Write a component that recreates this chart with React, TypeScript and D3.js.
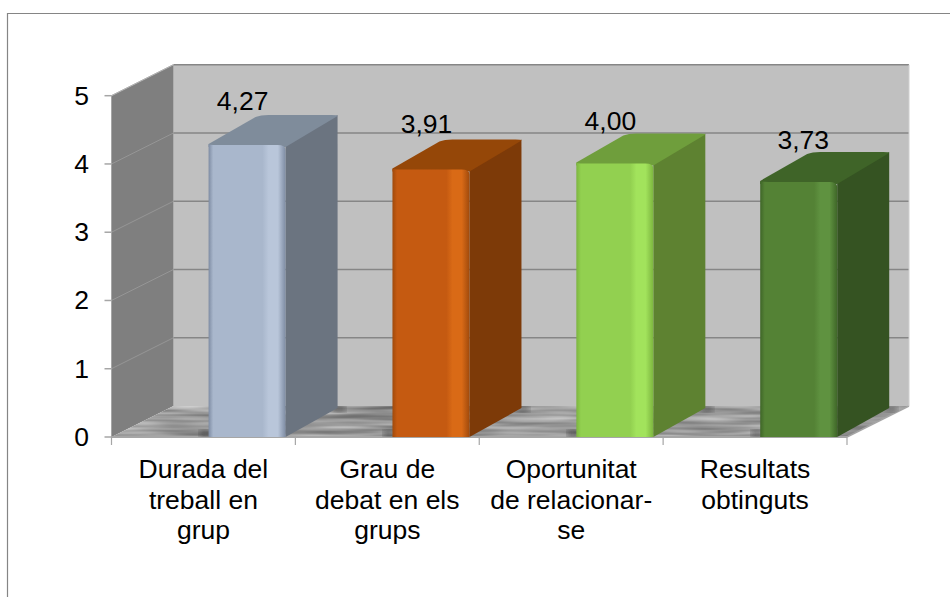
import React, { useEffect, useRef } from "react";
import * as d3 from "d3";

const categories = ["Durada del treball en grup", "Grau de debat en els grups", "Oportunitat de relacionar-se", "Resultats obtinguts"];
const labelLines = [
  ["Durada del", "treball en", "grup"],
  ["Grau de", "debat en els", "grups"],
  ["Oportunitat", "de relacionar-", "se"],
  ["Resultats", "obtinguts"],
];
const values = [4.27, 3.91, 4.0, 3.73];
const valueLabels = ["4,27", "3,91", "4,00", "3,73"];
const yTicks = [0, 1, 2, 3, 4, 5];

// front, highlight, top and side colours of each bar
const frontColors = ["#a9b7cc", "#c55a11", "#92d050", "#548235"];
const lightColors = ["#b9c6da", "#d96a16", "#a2e35c", "#5f9240"];
const edgeColors = ["#7e8ca3", "#a04a0c", "#7cb53f", "#3f6628"];
const topColors = ["#7f8c9b", "#954708", "#6f9e3c", "#3f6428"];
const sideColors = ["#6b7480", "#7d3a08", "#5e8231", "#355322"];

const width = 950, height = 597;
const x0 = 111.5, x1 = 847, y0 = 437, y5 = 95.7;
const depthX = 62, depthY = -31; // wall offset
const barDepthX = 52, barDepthY = -29;
const barOffset = 0.528, barWidth = 77;
const barLift = 1.5; // bars sit slightly above the scale in the 3d projection
const fontSize = 26.5;

// value labels don't sit at a fixed place over the bars
const labelDx = [34, 34, 34, 43];
const labelDy = [35.5, 37, 33.5, 33.7];

const App = () => {
  const svgRef = useRef<SVGSVGElement>(null);

  useEffect(() => {
    const svg = d3.select(svgRef.current);
    svg.selectAll("*").remove(); // Clear previous chart

    const xScale = d3.scaleBand().domain(categories).range([x0, x1]);
    const yScale = d3.scaleLinear().domain([0, 5]).range([y0, y5]);
    const font = "'Liberation Sans', Arial, sans-serif";

    const defs = svg.append("defs");

    // streaky floor texture
    const filter = defs.append("filter").attr("id", "floorTex").attr("x", 0).attr("y", 0).attr("width", 1).attr("height", 1)
      .attr("color-interpolation-filters", "sRGB");
    filter.append("feTurbulence").attr("type", "fractalNoise").attr("baseFrequency", "0.012 0.2").attr("numOctaves", 2).attr("seed", 4).attr("result", "n");
    filter.append("feColorMatrix").attr("in", "n").attr("type", "matrix")
      .attr("values", "0.55 0 0 0 0.33  0.55 0 0 0 0.33  0.55 0 0 0 0.33  0 0 0 0 1").attr("result", "g");
    filter.append("feGaussianBlur").attr("in", "g").attr("stdDeviation", "1.5 0.7").attr("result", "b");
    filter.append("feComposite").attr("in", "b").attr("in2", "SourceAlpha").attr("operator", "in");

    defs.append("filter").attr("id", "soft").append("feGaussianBlur").attr("stdDeviation", 3);
    defs.append("clipPath").attr("id", "floorClip").append("path")
      .attr("d", d3.line()([[x0, y0], [x0 + depthX, y0 + depthY], [x1 + depthX, y0 + depthY], [x1, y0]]) + "Z");

    // bar front gradients
    frontColors.forEach((c, i) => {
      const g = defs.append("linearGradient").attr("id", `front${i}`);
      const stops: [number, string][] = [
        [0, edgeColors[i]], [0.06, c], [0.7, c], [0.78, lightColors[i]],
        [0.9, lightColors[i]], [1, edgeColors[i]],
      ];
      stops.forEach(([o, col]) => g.append("stop").attr("offset", o).attr("stop-color", col));
    });

    // frame, open on the right and bottom
    svg.append("path").attr("d", "M7.5,597V13.5H950").attr("fill", "none").attr("stroke", "#858585").attr("stroke-width", 1.2);

    // back wall
    const wallTop = yScale(5) + depthY, wallBottom = y0 + depthY;
    svg.append("rect").attr("x", x0 + depthX).attr("y", wallTop)
      .attr("width", x1 - x0).attr("height", wallBottom - wallTop).attr("fill", "#c0c0c0");

    // side wall
    svg.append("path")
      .attr("d", d3.line()([[x0, y5], [x0 + depthX, wallTop], [x0 + depthX, wallBottom], [x0, y0]]) + "Z")
      .attr("fill", "#7f7f7f");

    // floor
    const floor = d3.line()([[x0, y0], [x0 + depthX, wallBottom], [x1 + depthX, wallBottom], [x1, y0]]) + "Z";
    svg.append("path").attr("d", floor).attr("fill", "#999").attr("filter", "url(#floorTex)");

    // gridlines on both walls
    yTicks.forEach((t) => {
      const y = yScale(t);
      if (t > 0) {
        svg.append("line").attr("x1", x0 + depthX).attr("x2", x1 + depthX).attr("y1", y + depthY).attr("y2", y + depthY)
          .attr("stroke", "#868686").attr("stroke-width", 1.5);
        svg.append("line").attr("x1", x0).attr("x2", x0 + depthX).attr("y1", y).attr("y2", y + depthY)
          .attr("stroke", "#969696").attr("stroke-width", 1);
      }
    });

    // axes
    const axisColor = "#a6a6a6";
    svg.append("line").attr("x1", x0).attr("x2", x1).attr("y1", y0).attr("y2", y0).attr("stroke", axisColor).attr("stroke-width", 2);
    svg.append("line").attr("x1", x1).attr("x2", x1 + depthX).attr("y1", y0).attr("y2", y0 + depthY).attr("stroke", axisColor).attr("stroke-width", 1.5);
    svg.append("line").attr("x1", x0).attr("x2", x0).attr("y1", y5).attr("y2", y0).attr("stroke", axisColor).attr("stroke-width", 1);
    svg.append("line").attr("x1", x1 + depthX).attr("x2", x1 + depthX).attr("y1", wallTop).attr("y2", wallBottom).attr("stroke", "#d0d0d0").attr("stroke-width", 1);
    svg.append("line").attr("x1", x0).attr("x2", x0 + depthX).attr("y1", y5).attr("y2", wallTop).attr("stroke", "#b5b5b5");

    yTicks.forEach((t) => {
      svg.append("line").attr("x1", x0 - 7).attr("x2", x0).attr("y1", yScale(t)).attr("y2", yScale(t)).attr("stroke", axisColor).attr("stroke-width", 1.5);
      svg.append("text").attr("x", 89).attr("y", yScale(t) + 9).attr("text-anchor", "end")
        .attr("font-family", font).attr("font-size", fontSize).attr("fill", "#000").text(t);
    });

    const tickPositions = [...categories.map((c) => xScale(c)!), x1];
    tickPositions.forEach((x) => {
      svg.append("line").attr("x1", x).attr("x2", x).attr("y1", y0).attr("y2", y0 + 8).attr("stroke", axisColor).attr("stroke-width", 1.2);
    });

    // floor shadows around the bars
    const shadows = svg.append("g").attr("clip-path", "url(#floorClip)");
    categories.forEach((c) => {
      const bx = xScale(c)! + xScale.bandwidth() * barOffset;
      shadows.append("rect").attr("x", bx - 9).attr("y", y0 - 7).attr("width", 12).attr("height", 7)
        .attr("fill", "#333").attr("opacity", 0.6).attr("filter", "url(#soft)");
      shadows.append("rect").attr("x", bx + barWidth + barDepthX - 6).attr("y", y0 + barDepthY - 2).attr("width", 14).attr("height", 6)
        .attr("fill", "#333").attr("opacity", 0.6).attr("filter", "url(#soft)");
    });

    // bars
    categories.forEach((c, i) => {
      const bx = xScale(c)! + xScale.bandwidth() * barOffset;
      const by = yScale(values[i]) - barLift;
      const g = svg.append("g");
      const line = d3.line();
      g.append("path")
        .attr("d", line([[bx + barWidth, y0], [bx + barWidth + barDepthX, y0 + barDepthY], [bx + barWidth + barDepthX, by + barDepthY], [bx + barWidth, by]]) + "Z")
        .attr("fill", sideColors[i]);
      g.append("path")
        .attr("d", `M${bx},${by}L${bx + barDepthX - 5},${by + barDepthY + 2}Q${bx + barDepthX},${by + barDepthY} ${bx + barDepthX + 8},${by + barDepthY}`
          + `L${bx + barWidth + barDepthX - 6},${by + barDepthY}Q${bx + barWidth + barDepthX},${by + barDepthY} ${bx + barWidth + barDepthX},${by + barDepthY + 1}`
          + `L${bx + barWidth},${by + 3}L${bx},${by + 3}Z`)
        .attr("fill", topColors[i]);
      g.append("path")
        .attr("d", `M${bx},${by}Q${bx},${by + 1} ${bx + 8},${by + 1}L${bx + barWidth - 8},${by + 1}Q${bx + barWidth},${by + 1} ${bx + barWidth},${by + 6}L${bx + barWidth},${y0}L${bx},${y0}Z`)
        .attr("fill", `url(#front${i})`);
    });

    // data labels
    categories.forEach((c, i) => {
      const bx = xScale(c)! + xScale.bandwidth() * barOffset;
      svg.append("text").attr("x", bx + labelDx[i]).attr("y", yScale(values[i]) - labelDy[i])
        .attr("text-anchor", "middle").attr("font-family", font).attr("font-size", fontSize).attr("fill", "#000").text(valueLabels[i]);
    });

    // category labels
    categories.forEach((c, i) => {
      const cx = xScale(c)! + xScale.bandwidth() / 2;
      labelLines[i].forEach((l, k) => {
        svg.append("text").attr("x", cx).attr("y", 478 + k * 30.5)
          .attr("text-anchor", "middle").attr("font-family", font).attr("font-size", fontSize).attr("fill", "#000").text(l);
      });
    });
  }, []);

  return <svg ref={svgRef} width={width} height={height} style={{ position: "absolute", left: 0, top: 0 }}></svg>;
};

export default App;
